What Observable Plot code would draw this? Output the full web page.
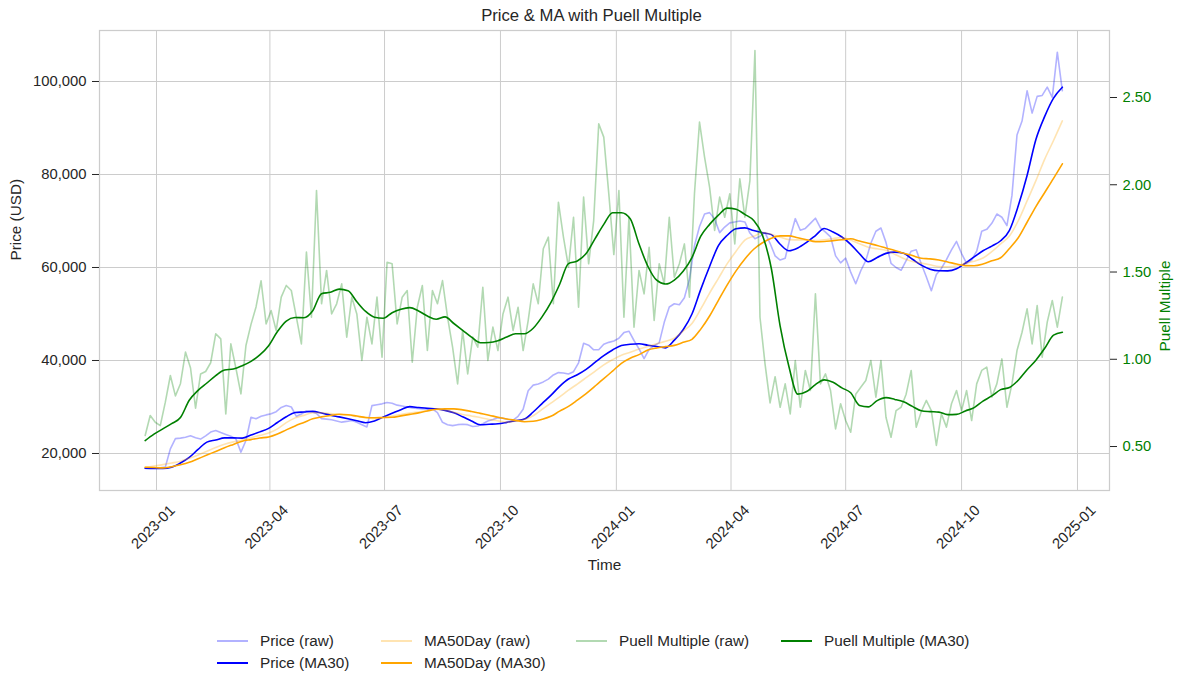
<!DOCTYPE html>
<html>
<head>
<meta charset="utf-8">
<script src="https://cdn.jsdelivr.net/npm/d3@7"></script>
<script src="https://cdn.jsdelivr.net/npm/@observablehq/plot@0.6"></script>
<style>
  body { margin: 0; background: #fff; font-family: "Liberation Sans", Arial, sans-serif; }
  #wrap { position: relative; width: 1183px; height: 687px; overflow: hidden; }
  #chart { position: absolute; left: 0; top: 0; }
  #title { position: absolute; left: 0; width: 1183px; top: 6px; text-align: center; font-size: 16.7px; color: #262626; }
  #legend { position: absolute; left: 217px; top: 630px; display: grid;
            grid-template-rows: 22px 22px; grid-template-columns: 164px 195px 205px auto;
            font-size: 15.3px; color: #262626; }
  .item { display: flex; align-items: center; height: 22px; }
  .swatch { width: 31px; height: 0; border-top-style: solid; border-top-width: 2px; margin-right: 12px; }
</style>
</head>
<body>
<div id="wrap">
  <div id="chart"></div>
  <div id="title">Price &amp; MA with Puell Multiple</div>
  <div id="legend"></div>
</div>
<script>
// ---- data (weekly samples from 2022-12-23; raw series every 4 days) ----
const startDate = "2022-12-23";
const maStepDays = 7;
const rawStepDays = 4;

const priceRaw = [16800,16850,16900,16950,17100,21000,23200,23300,23500,23800,
23400,23100,23800,24600,24950,24500,24100,23700,23150,20300,
22800,27800,27460,28000,28300,28540,29000,29900,30300,30000,
28000,28500,29200,29000,28600,27500,27400,27250,27000,26740,
26900,27100,26700,26200,25700,30300,30500,30680,30950,30800,
30400,30200,30000,29800,29700,29600,29600,29600,28800,26700,
26200,26000,26200,26300,26200,25800,25900,26400,27000,27300,
27700,27600,27300,27200,28000,29500,33500,34700,34950,35400,
36000,36900,37400,37300,37100,37600,39500,43700,43300,42300,
42300,43500,43900,44200,44800,46000,46300,44300,42500,40400,
42400,43200,43800,48200,51500,52200,52000,53500,57500,64700,
68800,71500,71800,70400,67500,68700,69600,69800,70000,69800,
67400,66200,66700,67500,65200,62500,61600,62000,66500,70500,
68000,68400,69500,70600,68500,67600,66600,62500,61000,62000,
59000,56500,59300,61500,65200,67800,68500,65400,60900,60000,
59400,61500,63500,63800,60800,58000,55000,58500,59800,61700,
63800,65600,63000,60900,61600,63500,67800,68200,69500,71500,
70800,69000,75500,88500,91500,98000,93200,96800,97000,98800,
96600,106300,98000];

const priceMA30 = [16840,16800,16800,17050,17950,19160,20880,22450,22900,23350,
23350,23300,23970,24650,25400,26660,27900,28800,28930,29060,
28700,28250,27870,27470,27050,26620,27000,27850,28640,29430,
30070,29890,29710,29600,29270,28750,27900,27000,26170,26280,
26390,26700,27060,27420,28920,30730,32500,34450,36020,36950,
38110,39580,41050,42270,43230,43480,43600,43290,43000,42720,
44370,46600,50000,55300,60220,64700,66930,68320,68510,67950,
67480,67070,65000,63600,64190,65400,66870,68400,67630,66560,
64980,62950,61240,62150,63040,63310,63050,61780,60500,59640,
59300,59270,59730,60920,62280,63600,64600,65750,68000,73270,
79800,87530,92500,96430,98770];

const ma50DayRaw = [17000,17300,17600,17950,18350,19000,19700,20500,21300,22000,
22500,22900,23400,23900,24400,25300,26650,27660,28200,28750,
28770,28580,28400,28210,27970,27720,27480,27750,28060,28380,
28680,28940,29210,29480,29330,28840,28400,28080,27750,27330,
27020,26740,27020,27310,28110,29470,30830,32190,33630,34930,
36300,37680,39060,40170,41150,41790,42450,43040,43610,44150,
44770,46340,47970,51090,54510,57670,60820,63480,65900,66700,
67500,67130,66530,65990,65930,65870,65810,65980,66220,66460,
65920,65100,64340,64020,63700,62860,61920,61300,60940,60580,
60220,60170,60330,60950,61330,62030,63390,65080,66780,70050,
74320,78680,83310,87310,91530];

const ma50DayMA30 = [17050,16980,16900,17150,17560,18100,18880,19660,20450,21240,
21950,22650,22990,23330,23550,24190,25080,25930,26690,27450,
27880,28160,28450,28340,28050,27750,27690,27740,27780,28090,
28410,28740,29150,29520,29600,29600,29390,29030,28630,28230,
27800,27420,27130,26840,26930,27350,27990,29110,30140,31480,
32900,34480,36080,37730,39400,40480,41260,42250,42700,42980,
43250,43900,44560,46750,49560,52940,56260,59280,61830,63930,
65320,66280,66790,66810,66390,65970,65530,65590,65780,65970,
66170,65680,65200,64740,64190,63660,63050,62560,62000,61860,
61600,61200,60740,60410,60380,60750,61440,62090,64090,66390,
69730,73110,76130,79160,82300];

const puellRaw = [0.563,0.678,0.639,0.620,0.754,0.907,0.790,0.860,1.041,0.950,
0.720,0.916,0.930,0.980,1.146,1.117,0.687,1.088,0.950,0.802,
1.079,1.200,1.300,1.450,1.203,1.279,1.165,1.356,1.423,1.394,
1.241,1.088,1.614,1.241,1.967,1.318,1.509,1.260,1.318,1.432,
1.127,1.356,1.260,0.993,1.241,1.088,1.356,1.012,1.556,1.547,
1.203,1.356,1.394,0.983,1.298,1.423,1.050,1.394,1.318,1.451,
1.241,1.069,0.859,1.165,0.916,1.127,1.069,1.413,0.993,1.184,
1.050,1.260,1.356,1.165,1.298,1.050,1.222,1.432,1.318,1.633,
1.700,1.318,1.900,1.700,1.528,1.814,1.298,1.929,1.547,1.795,
2.349,2.273,1.948,1.600,1.967,1.241,1.814,1.184,1.509,1.375,
1.642,1.222,1.547,1.432,1.814,1.470,1.547,1.661,1.356,1.950,
2.359,2.158,1.986,1.738,1.929,1.814,1.948,1.661,2.034,1.814,
2.024,2.769,1.241,0.974,0.750,0.900,0.725,0.859,0.687,0.993,
0.725,0.936,0.821,1.375,0.859,0.916,0.821,0.601,0.745,0.649,
0.582,0.800,0.840,0.878,0.993,0.783,0.993,0.668,0.553,0.706,
0.725,0.800,0.936,0.611,0.700,0.764,0.706,0.506,0.687,0.611,
0.745,0.821,0.706,0.821,0.649,0.859,0.936,0.955,0.783,0.859,
1.002,0.725,0.859,1.050,1.155,1.289,1.088,1.308,1.012,1.213,
1.337,1.184,1.356];

const puellMA30 = [0.534,0.571,0.601,0.631,0.666,0.765,0.822,0.864,0.906,0.938,
0.944,0.963,0.988,1.025,1.078,1.159,1.219,1.239,1.238,1.278,
1.376,1.384,1.402,1.393,1.330,1.274,1.241,1.235,1.267,1.287,
1.296,1.277,1.248,1.229,1.243,1.205,1.166,1.127,1.095,1.096,
1.106,1.127,1.146,1.146,1.178,1.243,1.325,1.430,1.548,1.563,
1.606,1.690,1.773,1.840,1.840,1.805,1.660,1.533,1.453,1.431,
1.454,1.505,1.583,1.705,1.773,1.826,1.866,1.860,1.830,1.795,
1.710,1.520,1.190,0.957,0.800,0.815,0.855,0.882,0.868,0.836,
0.808,0.735,0.727,0.763,0.780,0.770,0.756,0.730,0.705,0.700,
0.697,0.683,0.684,0.704,0.723,0.760,0.790,0.826,0.838,0.880,
0.940,0.995,1.063,1.138,1.155];

// axes
const priceTicks = [20000, 40000, 60000, 80000, 100000];
const puellTicks = [0.5, 1.0, 1.5, 2.0, 2.5];
const xTickLabels = ["2023-01","2023-04","2023-07","2023-10","2024-01","2024-04","2024-07","2024-10","2025-01"];
const priceDomain = [12043, 110966];
const puellDomain = [0.248, 2.884];
const timeDomain = ["2022-11-16T18:00Z", "2025-01-26T10:00Z"];

const series = [
  {name: "Price (raw)", color: "blue", opacity: 0.3},
  {name: "Price (MA30)", color: "blue", opacity: 1},
  {name: "MA50Day (raw)", color: "orange", opacity: 0.3},
  {name: "MA50Day (MA30)", color: "orange", opacity: 1},
  {name: "Puell Multiple (raw)", color: "green", opacity: 0.3},
  {name: "Puell Multiple (MA30)", color: "green", opacity: 1}
];
const legendColumns = 4;

// ---- build tables ----
const t0 = new Date(startDate + "T00:00Z");
const rawRows = priceRaw.map((v, i) => ({date: d3.utcDay.offset(t0, rawStepDays * i), price: v, puell: puellRaw[i]}));
const maRows = priceMA30.map((v, i) => ({date: d3.utcDay.offset(t0, maStepDays * i), price: v,
  ma50raw: ma50DayRaw[i], ma50: ma50DayMA30[i], puell: puellMA30[i]}));

// secondary axis: Puell values placed on the price scale
const toPrice = d3.scaleLinear().domain(puellDomain).range(priceDomain);
const xTicks = xTickLabels.map(s => new Date(s + "-01T00:00Z"));
const ink = "#262626";
const lw = 1.6;

const chart = Plot.plot({
  width: 1183, height: 590,
  marginTop: 30, marginBottom: 100, marginLeft: 99, marginRight: 74,
  style: {fontFamily: '"Liberation Sans", Arial, sans-serif', fontSize: "14.8px", color: ink, background: "#fff"},
  x: {type: "utc", domain: timeDomain.map(s => new Date(s)), axis: null},
  y: {domain: priceDomain, axis: null},
  marks: [
    Plot.gridX(xTicks, {stroke: "#cccccc", strokeOpacity: 1, strokeWidth: 1}),
    Plot.gridY(priceTicks, {stroke: "#cccccc", strokeOpacity: 1, strokeWidth: 1}),
    Plot.frame({stroke: "#cccccc", strokeWidth: 1.25}),
    Plot.lineY(rawRows, {x: "date", y: "price", stroke: series[0].color, strokeOpacity: series[0].opacity, strokeWidth: lw}),
    Plot.lineY(maRows, {x: "date", y: "price", stroke: series[1].color, strokeOpacity: series[1].opacity, strokeWidth: lw, curve: "monotone-x"}),
    Plot.lineY(maRows, {x: "date", y: "ma50raw", stroke: series[2].color, strokeOpacity: series[2].opacity, strokeWidth: lw, curve: "monotone-x"}),
    Plot.lineY(maRows, {x: "date", y: "ma50", stroke: series[3].color, strokeOpacity: series[3].opacity, strokeWidth: lw, curve: "monotone-x"}),
    Plot.lineY(rawRows, {x: "date", y: d => toPrice(d.puell), stroke: series[4].color, strokeOpacity: series[4].opacity, strokeWidth: lw}),
    Plot.lineY(maRows, {x: "date", y: d => toPrice(d.puell), stroke: series[5].color, strokeOpacity: series[5].opacity, strokeWidth: lw, curve: "monotone-x"}),
    Plot.axisY(priceTicks, {anchor: "left", tickFormat: d3.format(","), tickSize: 7, tickPadding: 6, stroke: ink, fill: ink, label: null}),
    Plot.axisY(puellTicks.map(p => toPrice(p)), {anchor: "right", tickFormat: v => toPrice.invert(v).toFixed(2),
      tickSize: 7, tickPadding: 6, stroke: ink, fill: "green", label: null}),
    Plot.text(xTicks, {x: d => d, frameAnchor: "bottom", dy: 40, rotate: -45, textAnchor: "middle",
      text: d => d3.utcFormat("%Y-%m")(d), fill: ink}),
    Plot.text(["Time"], {frameAnchor: "bottom", dy: 79, fontSize: 15.3, fill: ink}),
    Plot.text(["Price (USD)"], {frameAnchor: "left", dx: -83, rotate: -90, fontSize: 15.3, fill: ink}),
    Plot.text(["Puell Multiple"], {frameAnchor: "right", dx: 56, rotate: -90, fontSize: 15.3, fill: "green"})
  ]
});
document.getElementById("chart").appendChild(chart);

// legend (matplotlib-style: columns filled top to bottom, extra items go to the first columns)
const legend = document.getElementById("legend");
const perCol = Math.floor(series.length / legendColumns);
const extra = series.length % legendColumns;
let idx = 0;
for (let c = 0; c < legendColumns; c++) {
  const n = perCol + (c < extra ? 1 : 0);
  for (let r = 0; r < n; r++, idx++) {
    const s = series[idx];
    const item = document.createElement("div");
    item.className = "item";
    item.style.gridColumn = String(c + 1);
    item.style.gridRow = String(r + 1);
    const sw = document.createElement("span");
    sw.className = "swatch";
    sw.style.borderTopColor = s.color;
    sw.style.opacity = s.opacity;
    const label = document.createElement("span");
    label.textContent = s.name;
    item.appendChild(sw); item.appendChild(label);
    legend.appendChild(item);
  }
}
</script>
</body>
</html>
